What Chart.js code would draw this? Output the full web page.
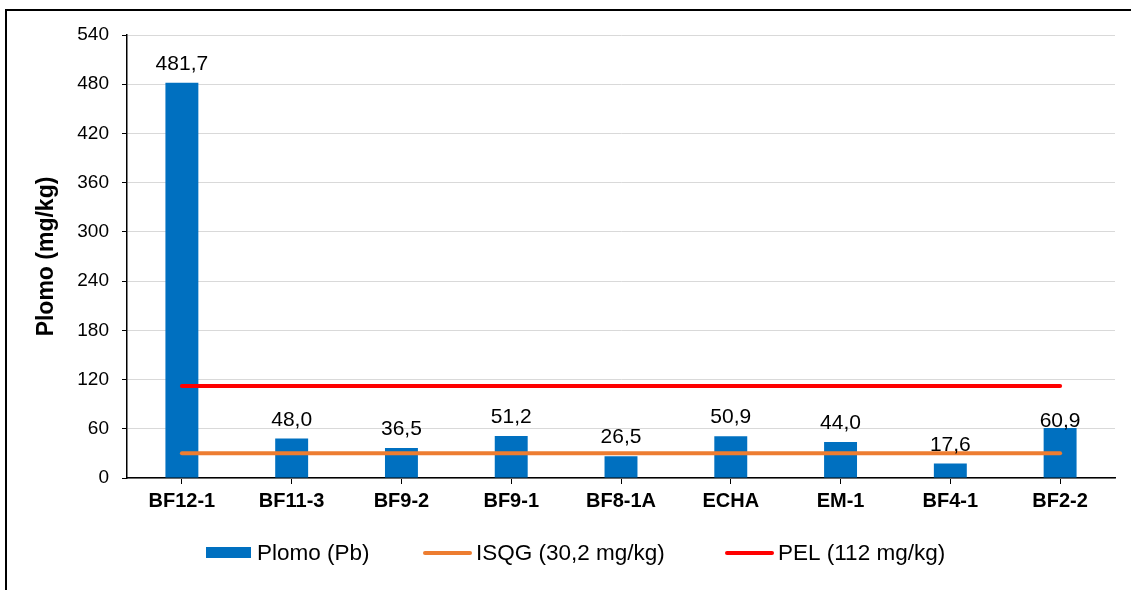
<!DOCTYPE html>
<html>
<head>
<meta charset="utf-8">
<script src="https://cdn.jsdelivr.net/npm/chart.js@4/dist/chart.umd.min.js"></script>
<style>
  html, body { margin: 0; padding: 0; background: #fff; }
  #wrap { position: relative; width: 1131px; height: 590px; overflow: hidden; }
</style>
</head>
<body>
<div id="wrap"><canvas id="chart" width="1131" height="590"></canvas></div>
<script>
// Sampling stations and lead concentrations (mg/kg)
const stations = ['BF12-1', 'BF11-3', 'BF9-2', 'BF9-1', 'BF8-1A', 'ECHA', 'EM-1', 'BF4-1', 'BF2-2'];
const plomo = [481.7, 48.0, 36.5, 51.2, 26.5, 50.9, 44.0, 17.6, 60.9];
// Sediment quality guidelines
const isqg = [30.2, 30.2, 30.2, 30.2, 30.2, 30.2, 30.2, 30.2, 30.2];
const pel = [112, 112, 112, 112, 112, 112, 112, 112, 112];
const yTicks = [0, 60, 120, 180, 240, 300, 360, 420, 480, 540];
const seriesNames = ['Plomo (Pb)', 'ISQG (30,2 mg/kg)', 'PEL (112 mg/kg)'];

const FONT = "'Liberation Sans', Arial, sans-serif";
const BLUE = '#0070C0';
const ORANGE = '#ED7D31';
const RED = '#FF0000';

// Outer frame of the figure
const framePlugin = {
  id: 'frame',
  beforeDraw(chart) {
    const ctx = chart.ctx;
    ctx.save();
    ctx.fillStyle = '#fff';
    ctx.fillRect(0, 0, chart.width, chart.height);
    ctx.strokeStyle = '#000';
    ctx.lineWidth = 2;
    ctx.strokeRect(6, 10, 1300, 800);
    ctx.restore();
  }
};

// Value labels above each bar, decimal comma
const valueLabels = {
  id: 'valueLabels',
  afterDatasetsDraw(chart, args, opts) {
    const ctx = chart.ctx;
    const meta = chart.getDatasetMeta(0);
    ctx.save();
    ctx.font = '21px ' + FONT;
    ctx.fillStyle = '#000';
    ctx.textAlign = 'center';
    ctx.textBaseline = 'alphabetic';
    meta.data.forEach((bar, i) => {
      const v = chart.data.datasets[0].data[i];
      const txt = v.toFixed(1).replace('.', ',');
      const lift = (opts.lift && opts.lift[i] !== undefined) ? opts.lift[i] : 13;
      ctx.fillText(txt, bar.x, bar.y - lift);
    });
    ctx.restore();
  }
};

// Legend row under the axis
const legendRow = {
  id: 'legendRow',
  afterDraw(chart) {
    const ctx = chart.ctx;
    const ds = chart.data.datasets;
    const cy = 553;
    const starts = [206, 423, 725];
    ctx.save();
    ctx.font = '22.5px ' + FONT;
    ctx.textBaseline = 'middle';
    ctx.textAlign = 'left';
    ds.forEach((d, i) => {
      const x = starts[i];
      if (d.type === 'bar') {
        ctx.fillStyle = d.backgroundColor;
        ctx.fillRect(x, cy - 6, 45, 11);
      } else {
        ctx.strokeStyle = d.borderColor;
        ctx.lineWidth = 4;
        ctx.lineCap = 'round';
        ctx.beginPath();
        ctx.moveTo(x + 2, cy);
        ctx.lineTo(x + 47, cy);
        ctx.stroke();
      }
      ctx.fillStyle = '#000';
      ctx.fillText(d.label, x + (d.type === 'bar' ? 51 : 53), cy + 1);
    });
    ctx.restore();
  }
};

new Chart(document.getElementById('chart'), {
  data: {
    labels: stations,
    datasets: [
      {
        type: 'bar',
        label: seriesNames[0],
        data: plomo,
        backgroundColor: BLUE,
        borderWidth: 0,
        barPercentage: 0.3,
        categoryPercentage: 1.0,
        order: 3
      },
      {
        type: 'line',
        label: seriesNames[1],
        data: isqg,
        borderColor: ORANGE,
        backgroundColor: ORANGE,
        borderWidth: 4,
        borderCapStyle: 'round',
        pointRadius: 0,
        fill: false,
        order: 1
      },
      {
        type: 'line',
        label: seriesNames[2],
        data: pel,
        borderColor: RED,
        backgroundColor: RED,
        borderWidth: 4,
        borderCapStyle: 'round',
        pointRadius: 0,
        fill: false,
        order: 2
      }
    ]
  },
  options: {
    responsive: false,
    animation: false,
    events: [],
    layout: { padding: { left: 0, right: 16, top: 35, bottom: 52 } },
    plugins: {
      legend: { display: false },
      tooltip: { enabled: false },
      valueLabels: { lift: { 8: 1 } }
    },
    scales: {
      x: {
        type: 'category',
        offset: true,
        grid: { display: true, drawOnChartArea: false, tickLength: 6, tickColor: '#000', offset: false },
        border: { display: true, color: '#000', width: 1.5 },
        ticks: {
          color: '#000',
          font: { family: FONT, size: 20, weight: 'bold' },
          padding: 5,
          maxRotation: 0,
          autoSkip: false
        },
        afterFit(scale) { scale.height = 60; }
      },
      y: {
        min: 0,
        max: 540,
        afterBuildTicks(scale) { scale.ticks = yTicks.map(v => ({ value: v })); },
        grid: { color: '#D9D9D9', lineWidth: 1, tickLength: 5, tickColor: '#000' },
        border: { display: true, color: '#000', width: 1.5 },
        ticks: {
          color: '#000',
          font: { family: FONT, size: 19 },
          padding: 13
        },
        title: {
          display: true,
          text: 'Plomo (mg/kg)',
          color: '#000',
          font: { family: FONT, size: 23, weight: 'bold' },
          padding: { top: 33, bottom: 0 }
        },
        afterFit(scale) { scale.width = 127; }
      }
    }
  },
  plugins: [framePlugin, valueLabels, legendRow]
});
</script>
</body>
</html>
